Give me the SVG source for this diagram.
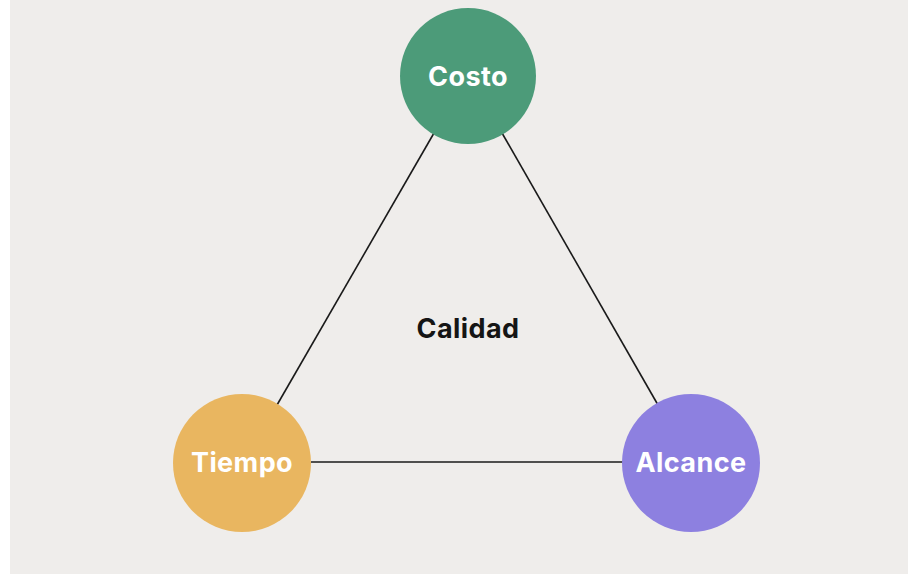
<svg xmlns="http://www.w3.org/2000/svg" width="908" height="574" viewBox="0 0 908 574">
  <style>
    .lbl { font-family: Inter, "Liberation Sans", sans-serif; font-weight: 700; font-size: 27px; letter-spacing: 0.4px; text-anchor: middle; }
    .w { fill: #ffffff; }
    .k { fill: #151515; }
    .edge { stroke: #1a1a1a; stroke-width: 1.6; fill: none; }
  </style>
  <rect x="0" y="0" width="908" height="574" fill="#ffffff"/>
  <rect x="10" y="0" width="898" height="574" fill="#efedeb"/>
  <g id="connectors">
    <line class="edge" x1="434" y1="133" x2="277" y2="405"/>
    <line class="edge" x1="502" y1="133" x2="658" y2="405"/>
    <line class="edge" x1="311" y1="462" x2="623" y2="462"/>
  </g>
  <g id="costo">
    <circle cx="468" cy="76" r="68" fill="#4c9b79"/>
    <text class="lbl w" x="468" y="86">Costo</text>
  </g>
  <g id="tiempo">
    <circle cx="242" cy="463" r="69" fill="#e9b660"/>
    <text class="lbl w" x="242" y="472">Tiempo</text>
  </g>
  <g id="alcance">
    <circle cx="691" cy="463" r="69" fill="#8d80e0"/>
    <text class="lbl w" x="691" y="472">Alcance</text>
  </g>
  <g id="calidad">
    <text class="lbl k" x="468" y="338">Calidad</text>
  </g>
</svg>
